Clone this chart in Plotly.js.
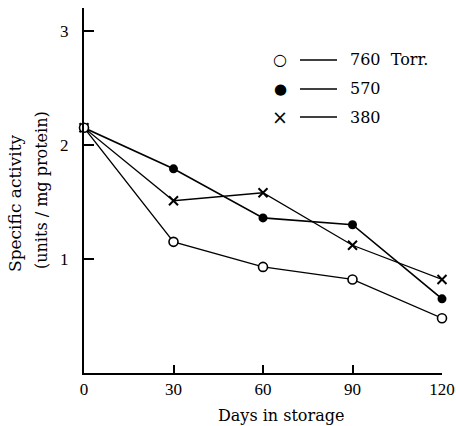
<!DOCTYPE html>
<html>
<head>
<meta charset="utf-8">
<script src="https://cdn.plot.ly/plotly-3.0.1.min.js"></script>
<style>html,body{margin:0;padding:0;background:#fff;}#chart{width:456px;height:426px;}</style>
</head>
<body>
<div id="chart"></div>
<script>
var days = [0, 30, 60, 90, 120];
var torr760 = [2.15, 1.15, 0.93, 0.82, 0.48];
var torr570 = [2.15, 1.79, 1.36, 1.30, 0.65];
var torr380 = [2.15, 1.51, 1.58, 1.12, 0.82];
var seriesNames = ['760  Torr.', '570', '380'];
var xTicks = [0, 30, 60, 90, 120];
var yTicks = [1, 2, 3];
var xTitle = 'Days in storage';
var yTitle1 = 'Specific activity';
var yTitle2 = '(units / mg protein)';

var F = 'DejaVu Serif, Liberation Serif, serif';
var FT = 'Liberation Serif, serif';
var traces = [
  {x: days, y: torr570, mode: 'lines+markers', name: seriesNames[1], cliponaxis: false,
   line: {color: 'black', width: 1.6},
   marker: {symbol: 'circle', size: 9, color: 'black'}},
  {x: days, y: torr380, mode: 'lines+markers', name: seriesNames[2], cliponaxis: false,
   line: {color: 'black', width: 1.3},
   marker: {symbol: 'x-thin-open', size: 9, color: 'black', line: {color: 'black', width: 2}}},
  {x: days, y: torr760, mode: 'lines+markers', name: seriesNames[0], cliponaxis: false,
   line: {color: 'black', width: 1.3},
   marker: {symbol: 'circle', size: 9, color: 'white', line: {color: 'black', width: 1.6}}}
];

var L = 84, R = 14, T = 8, B = 53;
var W = 456 - L - R, H = 426 - T - B;
function px(x){ return (x - L) / W; }
function py(y){ return (426 - B - y) / H; }

var legendRows = [60, 89, 117];
var legendSyms = ['○', '●', '×'];
var annotations = [];
var shapes = [];
for (var i = 0; i < 3; i++) {
  annotations.push({xref: 'paper', yref: 'paper', x: px(280), y: py(legendRows[i]),
    text: legendSyms[i], showarrow: false, xanchor: 'center', yanchor: 'middle',
    font: {family: 'DejaVu Sans', size: i === 2 ? 19 : (i === 1 ? 15 : 16), color: 'black'}});
  annotations.push({xref: 'paper', yref: 'paper', x: px(348), y: py(legendRows[i]),
    text: seriesNames[i], showarrow: false, xanchor: 'left', yanchor: 'middle',
    font: {family: F, size: 16, color: 'black'}});
  shapes.push({type: 'line', xref: 'paper', yref: 'paper', x0: px(300), x1: px(337),
    y0: py(legendRows[i]), y1: py(legendRows[i]), line: {color: 'black', width: 1.5}});
}
annotations.push({xref: 'paper', yref: 'paper', x: px(15), y: py(203), text: yTitle1,
  textangle: -90, showarrow: false, xanchor: 'center', yanchor: 'middle',
  font: {family: F, size: 17, color: 'black'}});
annotations.push({xref: 'paper', yref: 'paper', x: px(42), y: py(190), text: yTitle2,
  textangle: -90, showarrow: false, xanchor: 'center', yanchor: 'middle',
  font: {family: F, size: 16, color: 'black'}});
annotations.push({xref: 'paper', yref: 'paper', x: px(281), y: py(415), text: xTitle,
  showarrow: false, xanchor: 'center', yanchor: 'middle',
  font: {family: F, size: 16, color: 'black'}});

var layout = {
  width: 456, height: 426,
  margin: {l: L, r: R, t: T, b: B},
  paper_bgcolor: 'white', plot_bgcolor: 'white',
  showlegend: false,
  font: {family: F, color: 'black'},
  xaxis: {range: [0, 120], tickvals: xTicks, ticktext: xTicks.map(String),
    showgrid: false, zeroline: false, showline: true, linecolor: 'black', linewidth: 2,
    ticks: 'inside', ticklen: 8, tickwidth: 2, tickcolor: 'black', ticklabeloverflow: 'allow',
    tickfont: {family: FT, size: 17, color: 'black'}},
  yaxis: {range: [0, 3.2], tickvals: yTicks, ticktext: yTicks.map(String),
    showgrid: false, zeroline: false, showline: true, linecolor: 'black', linewidth: 2,
    ticks: 'inside', ticklen: 10, tickwidth: 2, tickcolor: 'black', ticklabelstandoff: 10,
    tickfont: {family: FT, size: 17, color: 'black'}},
  annotations: annotations,
  shapes: shapes
};
Plotly.newPlot('chart', traces, layout, {displayModeBar: false, staticPlot: true});
</script>
</body>
</html>
